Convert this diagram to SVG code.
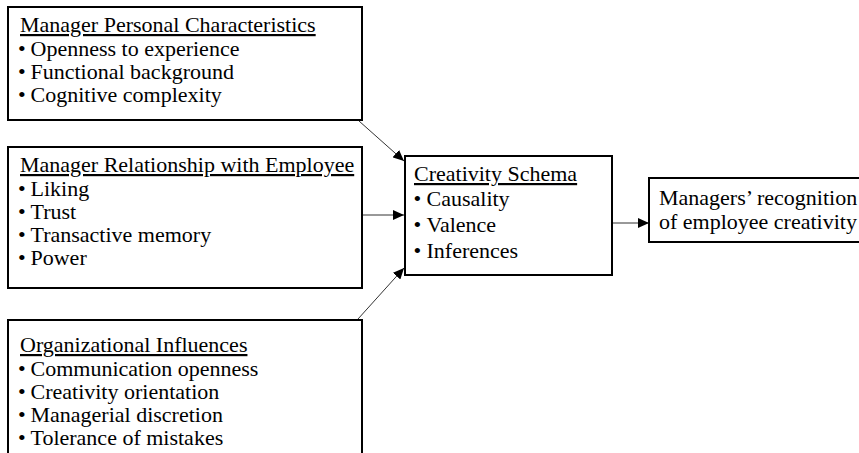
<svg xmlns="http://www.w3.org/2000/svg" width="859" height="453" viewBox="0 0 859 453">
  <style>
    .box { fill: #ffffff; stroke: #000000; stroke-width: 2; }
    .t { font-family: "Liberation Serif", "Times New Roman", serif; font-size: 22px; fill: #000000; }
    .h { text-decoration: underline; }
    .edge { stroke: #333333; stroke-width: 1; fill: none; marker-end: url(#arrow); }
  </style>
  <defs>
    <marker id="arrow" markerUnits="userSpaceOnUse" markerWidth="12" markerHeight="10" refX="11" refY="5" orient="auto">
      <path d="M0,0 L11,5 L0,10 Z" fill="#000000"/>
    </marker>
  </defs>
  <rect width="859" height="453" fill="#ffffff"/>

  <g id="connectors">
    <line class="edge" x1="359" y1="121" x2="404" y2="161"/>
    <line class="edge" x1="363" y1="215" x2="404" y2="215"/>
    <line class="edge" x1="358" y1="319" x2="404" y2="268"/>
    <line class="edge" x1="613" y1="223" x2="649" y2="223"/>
  </g>

  <g id="personal">
    <rect class="box" x="8" y="7" width="354" height="113"/>
    <text class="t h" x="20" y="32">Manager Personal Characteristics</text>
    <text class="t" x="18" y="55.5">•<tspan x="30.5">Openness to experience</tspan></text>
    <text class="t" x="18" y="79">•<tspan x="30.5">Functional background</tspan></text>
    <text class="t" x="18" y="102">•<tspan x="30.5">Cognitive complexity</tspan></text>
  </g>

  <g id="relationship">
    <rect class="box" x="8" y="147" width="354" height="141"/>
    <text class="t h" x="20" y="172">Manager Relationship with Employee</text>
    <text class="t" x="18" y="195.5">•<tspan x="30.5">Liking</tspan></text>
    <text class="t" x="18" y="219">•<tspan x="30.5">Trust</tspan></text>
    <text class="t" x="18" y="242">•<tspan x="30.5">Transactive memory</tspan></text>
    <text class="t" x="18" y="265">•<tspan x="30.5">Power</tspan></text>
  </g>

  <g id="organizational">
    <rect class="box" x="8" y="320" width="354" height="150"/>
    <text class="t h" x="20" y="352">Organizational Influences</text>
    <text class="t" x="18" y="375.5">•<tspan x="30.5">Communication openness</tspan></text>
    <text class="t" x="18" y="398.5">•<tspan x="30.5">Creativity orientation</tspan></text>
    <text class="t" x="18" y="422">•<tspan x="30.5">Managerial discretion</tspan></text>
    <text class="t" x="18" y="445">•<tspan x="30.5">Tolerance of mistakes</tspan></text>
  </g>

  <g id="schema">
    <rect class="box" x="405" y="156" width="207" height="119"/>
    <text class="t h" x="414" y="181">Creativity Schema</text>
    <text class="t" x="413.5" y="206">•<tspan x="426.5">Causality</tspan></text>
    <text class="t" x="413.5" y="231.5">•<tspan x="426.5">Valence</tspan></text>
    <text class="t" x="413.5" y="257.5">•<tspan x="426.5">Inferences</tspan></text>
  </g>

  <g id="recognition">
    <rect class="box" x="649" y="178" width="230" height="64"/>
    <text class="t" x="659" y="205">Managers’ recognition</text>
    <text class="t" x="659" y="228.5">of employee creativity</text>
  </g>
</svg>
